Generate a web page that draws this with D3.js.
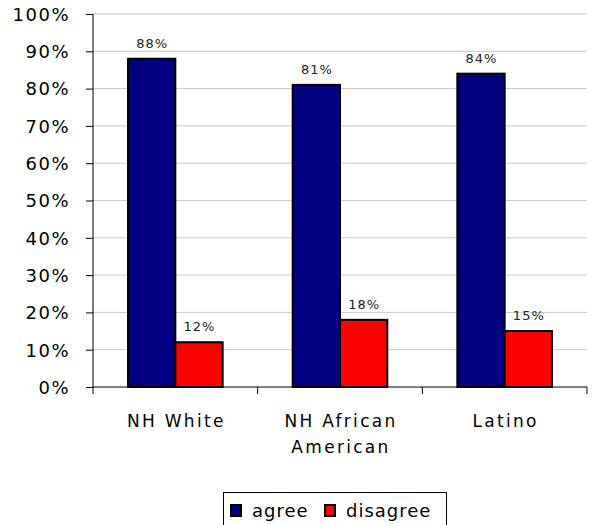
<!DOCTYPE html>
<html>
<head>
<meta charset="utf-8">
<script src="https://cdn.jsdelivr.net/npm/d3@7"></script>
<style>
  body { margin: 0; background: #fff; }
  text { font-family: Verdana, "DejaVu Sans", sans-serif; fill: #000; }
</style>
</head>
<body>
<div id="chart"></div>
<script>
// data
var categories = ["NH White", "NH African American", "Latino"];
var category_lines = [["NH White"], ["NH African", "American"], ["Latino"]];
var series_names = ["agree", "disagree"];
var agree = [88, 81, 84];
var disagree = [12, 18, 15];
var y_ticks = [0, 10, 20, 30, 40, 50, 60, 70, 80, 90, 100];
var series_colors = ["#000080", "#ff0000"];

var width = 595, height = 525;
var margin = {left: 93, right: 8, top: 14, bottom: 138};

var svg = d3.select("#chart").append("svg")
  .attr("width", width)
  .attr("height", height);

var x = d3.scaleBand()
  .domain(categories)
  .range([margin.left, width - margin.right])
  .paddingInner(0).paddingOuter(0);

var x_inner = d3.scaleBand()
  .domain(series_names)
  .range([0, x.bandwidth()])
  .paddingInner(0)
  .paddingOuter(0.74);

var y = d3.scaleLinear()
  .domain([0, 100])
  .range([height - margin.bottom, margin.top]);

//gridlines
svg.append("g").selectAll("line")
  .data(y_ticks.filter(function(d){return d > 0;}))
  .enter().append("line")
  .attr("x1", margin.left).attr("x2", width - margin.right)
  .attr("y1", function(d){return y(d);})
  .attr("y2", function(d){return y(d);})
  .style("stroke", "#c8c8c8")
  .style("stroke-width", 1);

//bars
var rows = categories.map(function(c, i){
  return [{cat: c, s: "agree", v: agree[i]}, {cat: c, s: "disagree", v: disagree[i]}];
});

var groups = svg.append("g").selectAll("g")
  .data(rows).enter().append("g")
  .attr("transform", function(d){return "translate(" + x(d[0].cat) + ",0)";});

groups.selectAll("rect")
  .data(function(d){return d;})
  .enter().append("rect")
  .attr("x", function(d){return x_inner(d.s);})
  .attr("y", function(d){return y(d.v);})
  .attr("width", x_inner.bandwidth())
  .attr("height", function(d){return y(0) - y(d.v);})
  .style("fill", function(d, i){return series_colors[i];})
  .style("stroke", "#000")
  .style("stroke-width", 2);

groups.selectAll("text")
  .data(function(d){return d;})
  .enter().append("text")
  .attr("x", function(d){return x_inner(d.s) + x_inner.bandwidth()/2 + 0.5;})
  .attr("y", function(d){return y(d.v) - 11;})
  .attr("text-anchor", "middle")
  .style("font-size", "13px")
  .style("letter-spacing", "1px")
  .style("fill", "#222")
  .text(function(d){return d.v + "%";});

//y axis
var y_axis = svg.append("g")
  .attr("transform", "translate(" + margin.left + ",0)")
  .call(d3.axisLeft(y).tickValues(y_ticks).tickSize(7).tickPadding(16)
    .tickFormat(function(d){return d + "%";}));
y_axis.select(".domain").attr("d", "M0," + y(100) + "V" + y(0)).style("stroke", "#000");
y_axis.selectAll(".tick line").style("stroke", "#000");
y_axis.selectAll(".tick text")
  .style("font-size", "18px")
  .style("letter-spacing", "1.5px")
  .style("font-family", "Verdana, 'DejaVu Sans', sans-serif")
  .attr("dy", "0.35em");

//x axis
var x_axis = svg.append("g")
  .attr("transform", "translate(0," + y(0) + ")");
x_axis.append("line")
  .attr("x1", margin.left).attr("x2", width - margin.right)
  .style("stroke", "#000");
x_axis.selectAll(".xtick")
  .data(categories.map(function(c){return x(c);}).concat([width - margin.right]))
  .enter().append("line")
  .attr("x1", function(d){return d;}).attr("x2", function(d){return d;})
  .attr("y1", 0).attr("y2", 7)
  .style("stroke", "#000");

x_axis.selectAll(".xlabel")
  .data(categories).enter().append("text")
  .attr("text-anchor", "middle")
  .attr("x", function(d){return x(d) + x.bandwidth()/2;})
  .attr("y", 40)
  .style("font-size", "17px")
  .style("letter-spacing", "2.3px")
  .each(function(d, i){
    var t = d3.select(this);
    category_lines[i].forEach(function(line, j){
      t.append("tspan")
        .attr("x", x(d) + x.bandwidth()/2 + 1)
        .attr("dy", j == 0 ? 0 : 26)
        .text(line);
    });
  });

//legend
var legend = svg.append("g");
legend.append("rect")
  .attr("x", 223.5).attr("y", 492.5)
  .attr("width", 223).attr("height", 40)
  .style("fill", "#fff")
  .style("stroke", "#000");
var leg_x = [231, 325];
series_names.forEach(function(s, i){
  legend.append("rect")
    .attr("x", leg_x[i]).attr("y", 505)
    .attr("width", 10).attr("height", 11)
    .style("fill", series_colors[i])
    .style("stroke", "#000")
    .style("stroke-width", 2);
  legend.append("text")
    .attr("x", leg_x[i] + 21).attr("y", 517)
    .style("font-size", "18px")
    .style("letter-spacing", "1px")
    .text(s);
});
</script>
</body>
</html>
